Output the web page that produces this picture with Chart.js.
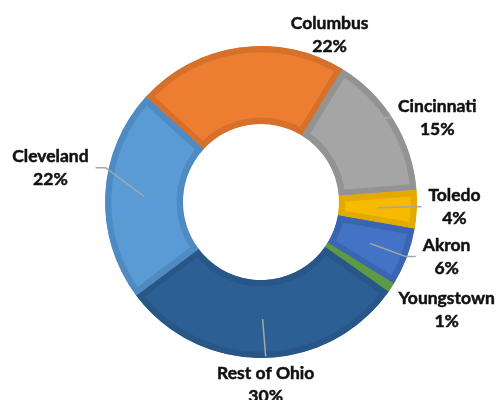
<!DOCTYPE html>
<html>
<head>
<meta charset="utf-8">
<script src="https://cdn.jsdelivr.net/npm/chart.js@4/dist/chart.umd.min.js"></script>
<style>
  html, body { margin: 0; padding: 0; background: #fff; }
  #wrap { width: 497px; height: 400px; }
</style>
</head>
<body>
<div id="wrap"><canvas id="ohioChart"></canvas></div>
<script>
// Dados do gráfico
const cities = ['Columbus', 'Cincinnati', 'Toledo', 'Akron', 'Youngstown', 'Rest of Ohio', 'Cleveland'];
const shares = [22, 15, 4, 6, 1, 30, 22];
const shareLabels = ['22%', '15%', '4%', '6%', '1%', '30%', '22%'];

const fillColors = ['#ED7D31', '#A5A5A5', '#F7BA00', '#4472C4', '#6AA84F', '#2C5F94', '#5B9BD5'];
const edgeColors = ['#D6702B', '#939393', '#E3AA00', '#3A65B2', '#5E9A45', '#275687', '#4F8BC3'];

// posição dos rótulos (em frações do raio externo, a partir do centro)
const labelPos = [[0.44, -1.07], [1.13, -0.54], [1.24, 0.03], [1.19, 0.35], [1.19, 0.69], [0.03, 1.17], [-1.35, -0.22]];
// de que lado do rótulo chega a linha guia
const leaderSide = [null, 'left', 'left', 'left', null, 'top', 'right'];

const outerLabels = {
  id: 'outerLabels',
  afterDraw(chart) {
    const ctx = chart.ctx;
    const arcs = chart.getDatasetMeta(0).data;
    ctx.save();
    ctx.font = 'bold 17.5px Lato';
    ctx.textAlign = 'center';
    ctx.textBaseline = 'middle';
    arcs.forEach((arc, i) => {
      const p = arc.getProps(['x', 'y', 'startAngle', 'endAngle', 'innerRadius', 'outerRadius']);
      const mid = (p.startAngle + p.endAngle) / 2;
      const midR = (p.innerRadius + p.outerRadius) / 2;
      const ax = p.x + Math.cos(mid) * midR;
      const ay = p.y + Math.sin(mid) * midR;
      const lx = p.x + labelPos[i][0] * p.outerRadius;
      const ly = p.y + labelPos[i][1] * p.outerRadius;
      const w = Math.max(ctx.measureText(cities[i]).width, ctx.measureText(shareLabels[i]).width);

      if (leaderSide[i]) {
        ctx.strokeStyle = '#A6A6A6';
        ctx.lineWidth = 1.5;
        ctx.beginPath();
        ctx.moveTo(ax, ay);
        if (leaderSide[i] === 'left') {
          const ex = lx - w / 2 - 7;
          ctx.lineTo(ex - 10, ly);
          ctx.lineTo(ex, ly);
        } else if (leaderSide[i] === 'right') {
          const ex = lx + w / 2 + 7;
          ctx.lineTo(ex + 10, ly);
          ctx.lineTo(ex, ly);
        } else {
          ctx.lineTo(lx, ly - 28);
        }
        ctx.stroke();
      }

      // texto um pouco mais pesado, como no original
      ctx.fillStyle = '#111111';
      ctx.strokeStyle = '#111111';
      ctx.lineWidth = 0.5;
      ctx.fillText(cities[i], lx, ly - 11.5);
      ctx.strokeText(cities[i], lx, ly - 11.5);
      ctx.fillText(shareLabels[i], lx, ly + 11.5);
      ctx.strokeText(shareLabels[i], lx, ly + 11.5);
    });
    ctx.restore();
  }
};

const ctx = document.getElementById('ohioChart').getContext('2d');
new Chart(ctx, {
  type: 'doughnut',
  data: {
    labels: cities,
    datasets: [{
      data: shares,
      backgroundColor: fillColors,
      borderColor: edgeColors,
      borderWidth: 6,
      borderAlign: 'inner',
      hoverOffset: 0
    }]
  },
  options: {
    responsive: true,
    maintainAspectRatio: false,
    animation: false,
    rotation: -47.6,
    cutout: '50%',
    layout: { padding: { top: 46, bottom: 42, left: 105, right: 80 } },
    plugins: {
      legend: { display: false },
      tooltip: { enabled: false }
    }
  },
  plugins: [outerLabels]
});
</script>
</body>
</html>
